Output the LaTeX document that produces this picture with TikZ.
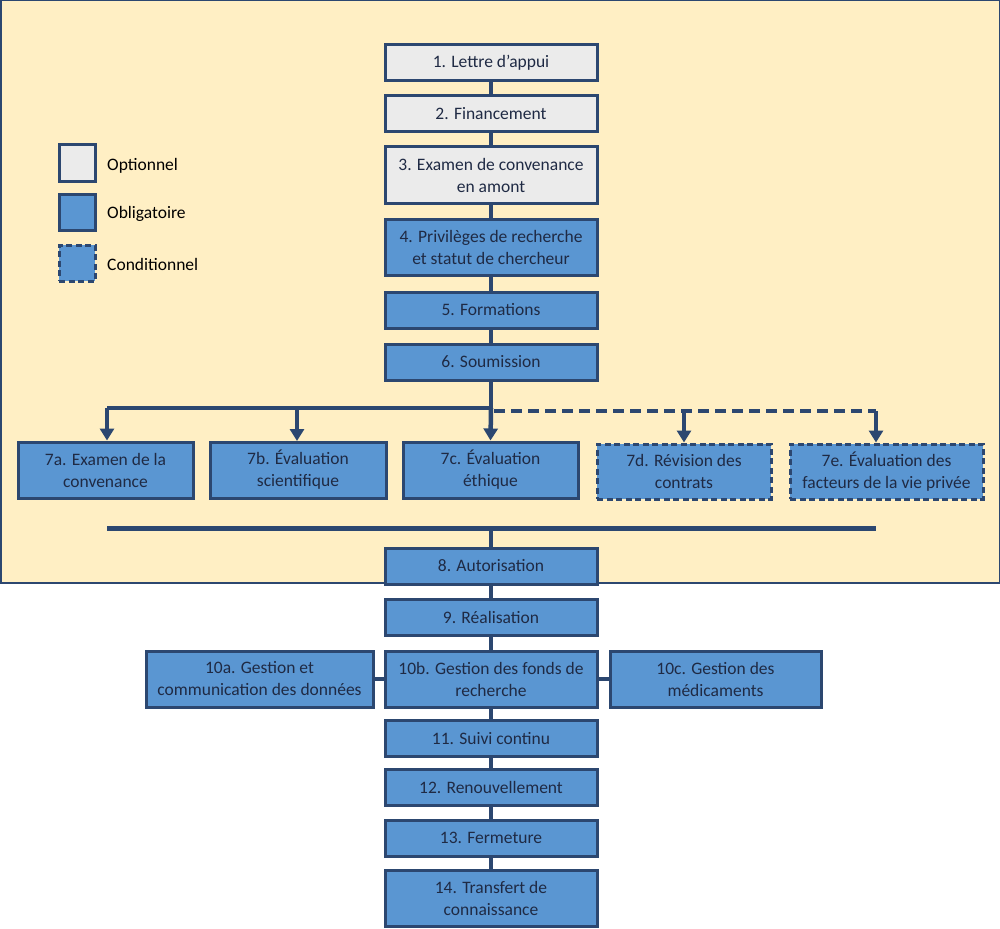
\documentclass[tikz,border=0pt]{standalone}
\usepackage{fontspec}
\setmainfont{Carlito}
\usetikzlibrary{arrows.meta}
\definecolor{bgy}{HTML}{FFEFC4}
\definecolor{navy}{HTML}{2C4770}
\definecolor{bluef}{HTML}{5A96D2}
\definecolor{grayf}{HTML}{EBEBEB}
\definecolor{txt}{HTML}{1F2A44}
\tikzset{
  box/.style={draw=navy, line width=3pt, minimum height=#1, align=center, inner sep=0pt, font=\fontsize{17.5}{22}\selectfont, text=txt},
  box/.default=36pt,
  opt/.style={fill=grayf},
  mand/.style={fill=bluef},
  cond/.style={fill=bluef, dash pattern=on 6pt off 3.5pt},
  conn/.style={draw=navy, line width=4.5pt},
  arr/.style={conn, -{Triangle[width=14pt,length=12pt]}},
  legtxt/.style={font=\fontsize{17.5}{20}\selectfont, text=black, anchor=west, inner sep=0pt}
}
\begin{document}
\begin{tikzpicture}[x=1pt,y=-1pt]
\useasboundingbox (0,0) rectangle (1000,928);
\fill[white] (0,0) rectangle (1000,928);
\draw[fill=bgy, draw=navy, line width=1.5pt] (0.75,0.75) rectangle (999.25,583);
% legend
\node[box, opt, minimum width=36pt, minimum height=36pt] (lo) at (77,163) {};
\node[box, mand, minimum width=36pt, minimum height=36pt] (lm) at (77,212) {};
\node[box, cond, minimum width=36pt, minimum height=36pt] (lc) at (77,263) {};
\node[legtxt] (lot) at (107,166) {Optionnel};
\node[legtxt] (lmt) at (107,214) {Obligatoire};
\node[legtxt] (lct) at (107,264) {Conditionnel};
% main column
\node[box, opt, minimum width=212pt] (n1) at (491,63) {1. Lettre d’appui};
\node[box, opt, minimum width=212pt] (n2) at (491,113.5) {2. Financement};
\node[box, opt, minimum width=212pt, minimum height=56pt] (n3) at (491,175) {3. Examen de convenance\\en amont};
\node[box, mand, minimum width=212pt, minimum height=56pt] (n4) at (491,247) {4. Privilèges de recherche\\et statut de chercheur};
\node[box, mand, minimum width=212pt] (n5) at (491,310) {5. Formations};
\node[box, mand, minimum width=212pt] (n6) at (491,362) {6. Soumission};
% branch 7
\node[box, mand, minimum width=175pt, minimum height=56pt] (n7a) at (105.5,470) {7a. Examen de la\\convenance};
\node[box, mand, minimum width=176pt, minimum height=56pt] (n7b) at (298,470) {7b. Évaluation\\scientifique};
\node[box, mand, minimum width=175pt, minimum height=56pt] (n7c) at (490.5,470) {7c. Évaluation\\éthique};
\node[box, cond, minimum width=174pt, minimum height=55pt] (n7d) at (684,471.5) {7d. Révision des\\contrats};
\node[box, cond, minimum width=193pt, minimum height=55pt] (n7e) at (886.5,471.5) {7e. Évaluation des\\facteurs de la vie privée};
% lower column
\node[box, mand, minimum width=212pt] (n8) at (491,566) {8. Autorisation};
\node[box, mand, minimum width=212pt] (n9) at (491,617.5) {9. Réalisation};
\node[box, mand, minimum width=227pt, minimum height=56pt] (n10a) at (259.5,679) {10a. Gestion et\\communication des données};
\node[box, mand, minimum width=212pt, minimum height=56pt] (n10b) at (491,679) {10b. Gestion des fonds de\\recherche};
\node[box, mand, minimum width=211pt, minimum height=56pt] (n10c) at (715.5,679) {10c. Gestion des\\médicaments};
\node[box, mand, minimum width=212pt] (n11) at (491,738.5) {11. Suivi continu};
\node[box, mand, minimum width=212pt] (n12) at (491,787.5) {12. Renouvellement};
\node[box, mand, minimum width=212pt] (n13) at (491,838) {13. Fermeture};
\node[box, mand, minimum width=212pt, minimum height=56pt] (n14) at (491,898) {14. Transfert de\\connaissance};
% connectors
\draw[conn] (n1) -- (n2);
\draw[conn] (n2) -- (n3);
\draw[conn] (n3) -- (n4);
\draw[conn] (n4) -- (n5);
\draw[conn] (n5) -- (n6);
\coordinate (b0) at (491,408);
\coordinate (bl) at (107,408);
\coordinate (br) at (876,411);
\draw[conn] (n6.south) -- (b0);
\draw[arr] (b0) -- (n7c.north);
\draw[conn, line cap=butt] (b0) -- (bl);
\draw[arr] (bl) -- (bl |- n7a.north);
\draw[arr] (297,408) -- (297,441);
\draw[conn, dash pattern=on 11pt off 6pt] (494,411) -- (br);
\draw[arr] (684,411) -- (n7d.north);
\draw[arr] (br) -- (br |- n7e.north);
\coordinate (jl) at (107,528);
\coordinate (jr) at (876,528);
\draw[conn, line width=5pt] (jl) -- (jr);
\draw[conn] (491,528) -- (n8.north);
\draw[conn] (n8) -- (n9);
\draw[conn] (n9) -- (n10b);
\draw[conn] (n10a) -- (n10b);
\draw[conn] (n10b) -- (n10c);
\draw[conn] (n10b) -- (n11);
\draw[conn] (n11) -- (n12);
\draw[conn] (n12) -- (n13);
\draw[conn] (n13) -- (n14);
\end{tikzpicture}
\end{document}
